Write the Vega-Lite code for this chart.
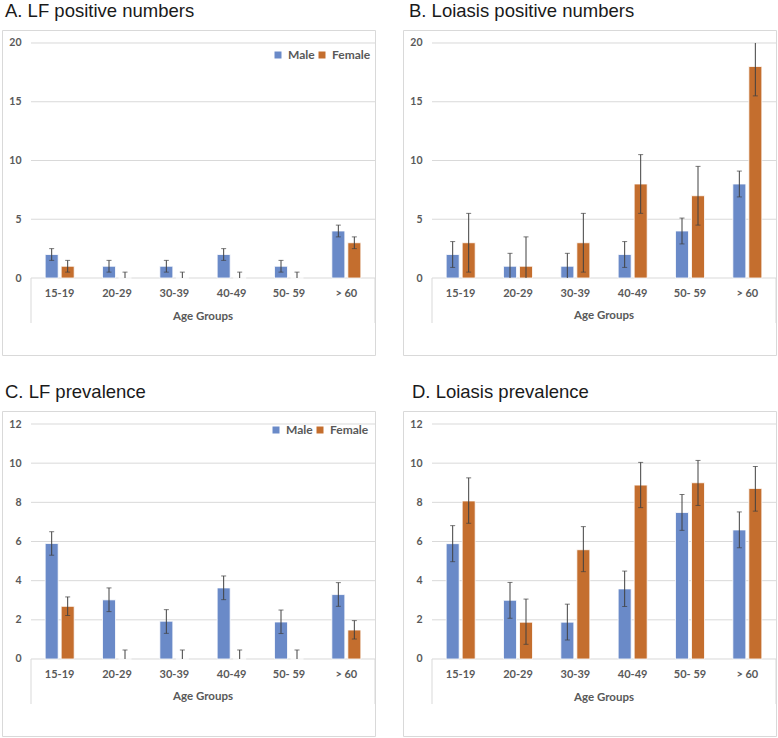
{
  "$schema": "https://vega.github.io/schema/vega-lite/v6.json",
  "background": "white",
  "padding": {"left": 1, "top": 1, "right": 0, "bottom": 0},
  "columns": 2,
  "spacing": {"row": 26, "column": 26},
  "resolve": {"scale": {"color": "independent"}, "legend": {"color": "independent"}},
  "datasets": {
    "A": [
      {"age": "15-19", "sex": "Male", "value": 2, "lo": 1.5, "hi": 2.5},
      {"age": "20-29", "sex": "Male", "value": 1, "lo": 0.5, "hi": 1.5},
      {"age": "30-39", "sex": "Male", "value": 1, "lo": 0.5, "hi": 1.5},
      {"age": "40-49", "sex": "Male", "value": 2, "lo": 1.5, "hi": 2.5},
      {"age": "50- 59", "sex": "Male", "value": 1, "lo": 0.5, "hi": 1.5},
      {"age": "> 60", "sex": "Male", "value": 4, "lo": 3.5, "hi": 4.5},
      {"age": "15-19", "sex": "Female", "value": 1, "lo": 0.5, "hi": 1.5},
      {"age": "20-29", "sex": "Female", "value": 0, "lo": 0, "hi": 0.5},
      {"age": "30-39", "sex": "Female", "value": 0, "lo": 0, "hi": 0.5},
      {"age": "40-49", "sex": "Female", "value": 0, "lo": 0, "hi": 0.5},
      {"age": "50- 59", "sex": "Female", "value": 0, "lo": 0, "hi": 0.5},
      {"age": "> 60", "sex": "Female", "value": 3, "lo": 2.5, "hi": 3.5}
    ],
    "B": [
      {"age": "15-19", "sex": "Male", "value": 2, "lo": 0.9, "hi": 3.1},
      {"age": "20-29", "sex": "Male", "value": 1, "lo": 0, "hi": 2.1},
      {"age": "30-39", "sex": "Male", "value": 1, "lo": 0, "hi": 2.1},
      {"age": "40-49", "sex": "Male", "value": 2, "lo": 0.9, "hi": 3.1},
      {"age": "50- 59", "sex": "Male", "value": 4, "lo": 2.9, "hi": 5.1},
      {"age": "> 60", "sex": "Male", "value": 8, "lo": 6.9, "hi": 9.1},
      {"age": "15-19", "sex": "Female", "value": 3, "lo": 0.5, "hi": 5.5},
      {"age": "20-29", "sex": "Female", "value": 1, "lo": 0, "hi": 3.5},
      {"age": "30-39", "sex": "Female", "value": 3, "lo": 0.5, "hi": 5.5},
      {"age": "40-49", "sex": "Female", "value": 8, "lo": 5.5, "hi": 10.5},
      {"age": "50- 59", "sex": "Female", "value": 7, "lo": 4.5, "hi": 9.5},
      {"age": "> 60", "sex": "Female", "value": 18, "lo": 15.5, "hi": 20}
    ],
    "C": [
      {"age": "15-19", "sex": "Male", "value": 5.9, "lo": 5.3, "hi": 6.5},
      {"age": "20-29", "sex": "Male", "value": 3.02, "lo": 2.42, "hi": 3.63},
      {"age": "30-39", "sex": "Male", "value": 1.93, "lo": 1.31, "hi": 2.52},
      {"age": "40-49", "sex": "Male", "value": 3.63, "lo": 3.03, "hi": 4.24},
      {"age": "50- 59", "sex": "Male", "value": 1.89, "lo": 1.3, "hi": 2.5},
      {"age": "> 60", "sex": "Male", "value": 3.29, "lo": 2.69, "hi": 3.9},
      {"age": "15-19", "sex": "Female", "value": 2.69, "lo": 2.22, "hi": 3.17},
      {"age": "20-29", "sex": "Female", "value": 0, "lo": 0, "hi": 0.46},
      {"age": "30-39", "sex": "Female", "value": 0, "lo": 0, "hi": 0.46},
      {"age": "40-49", "sex": "Female", "value": 0, "lo": 0, "hi": 0.46},
      {"age": "50- 59", "sex": "Female", "value": 0, "lo": 0, "hi": 0.46},
      {"age": "> 60", "sex": "Female", "value": 1.48, "lo": 1.02, "hi": 1.96}
    ],
    "D": [
      {"age": "15-19", "sex": "Male", "value": 5.89, "lo": 4.97, "hi": 6.81},
      {"age": "20-29", "sex": "Male", "value": 3.0, "lo": 2.08, "hi": 3.91},
      {"age": "30-39", "sex": "Male", "value": 1.88, "lo": 0.97, "hi": 2.8},
      {"age": "40-49", "sex": "Male", "value": 3.58, "lo": 2.68, "hi": 4.49},
      {"age": "50- 59", "sex": "Male", "value": 7.48, "lo": 6.57, "hi": 8.4},
      {"age": "> 60", "sex": "Male", "value": 6.59, "lo": 5.68, "hi": 7.51},
      {"age": "15-19", "sex": "Female", "value": 8.07, "lo": 6.93, "hi": 9.25},
      {"age": "20-29", "sex": "Female", "value": 1.88, "lo": 0.75, "hi": 3.06},
      {"age": "30-39", "sex": "Female", "value": 5.58, "lo": 4.46, "hi": 6.76},
      {"age": "40-49", "sex": "Female", "value": 8.88, "lo": 7.73, "hi": 10.04},
      {"age": "50- 59", "sex": "Female", "value": 9.0, "lo": 7.84, "hi": 10.14},
      {"age": "> 60", "sex": "Female", "value": 8.71, "lo": 7.55, "hi": 9.83}
    ],
    "gridAB": [{"v": 0}, {"v": 5}, {"v": 10}, {"v": 15}, {"v": 20}],
    "gridCD": [{"v": 0}, {"v": 2}, {"v": 4}, {"v": 6}, {"v": 8}, {"v": 10}, {"v": 12}],
    "one": [{}]
  },
  "concat": [
    {
      "title": {"text": "A. LF positive numbers", "dx": 3},
      "width": 373, "height": 325,
      "data": {"name": "A"},
      "layer": [
        {"data": {"name": "gridAB"}, "mark": {"type": "rule", "color": "#d9d9d9", "strokeWidth": 1},
         "encoding": {"y": {"field": "v", "type": "quantitative"},
                      "x": {"datum": "15-19", "type": "nominal", "bandPosition": 0},
                      "x2": {"datum": "> 60", "bandPosition": 1}}},
        {"data": {"name": "one"}, "mark": {"type": "rule", "color": "#d9d9d9", "strokeWidth": 1},
         "encoding": {"x": {"datum": "15-19", "type": "nominal", "bandPosition": 0},
                      "y": {"datum": 0, "type": "quantitative"}, "y2": {"datum": -3.83}}},
        {"data": {"name": "one"}, "mark": {"type": "rule", "color": "#d9d9d9", "strokeWidth": 1},
         "encoding": {"x": {"datum": "> 60", "type": "nominal", "bandPosition": 1},
                      "y": {"datum": 0, "type": "quantitative"}, "y2": {"datum": -3.83}}},
        {"mark": {"type": "bar", "stroke": "white", "strokeWidth": 0.8},
         "encoding": {
           "x": {"field": "age", "type": "nominal",
                 "scale": {"domain": ["15-19", "20-29", "30-39", "40-49", "50- 59", "> 60"], "paddingInner": 0, "paddingOuter": 0.253, "align": 1},
                 "axis": {"title": null, "offset": -77, "labelPadding": 15.5, "labelAngle": 0, "bandPosition": 0.5, "labelAlign": "center", "labelFontSize": 11}},
           "xOffset": {"field": "sex", "type": "nominal", "scale": {"domain": ["Male", "Female"], "paddingInner": 0.1875, "paddingOuter": 0.885}},
           "y": {"field": "value", "type": "quantitative",
                 "scale": {"domain": [-6.553, 21.106], "nice": false, "zero": false},
                 "axis": {"title": null, "offset": -29, "labelPadding": 10, "values": [0, 5, 10, 15, 20]}},
           "color": {"field": "sex", "type": "nominal",
                     "scale": {"domain": ["Male", "Female"], "range": ["#6a8ac8", "#c46e2e"]},
                     "legend": {"orient": "none", "legendX": 270, "legendY": 19, "direction": "horizontal", "title": null}}
         }},
        {"mark": {"type": "rule", "color": "#404040", "strokeWidth": 1},
         "encoding": {"x": {"field": "age", "type": "nominal"},
                      "xOffset": {"field": "sex", "type": "nominal"},
                      "y": {"field": "lo", "type": "quantitative"}, "y2": {"field": "hi"}}},
        {"transform": [{"filter": "datum.lo > 0"}], "mark": {"type": "tick", "color": "#404040", "size": 5, "thickness": 1},
         "encoding": {"x": {"field": "age", "type": "nominal"},
                      "xOffset": {"field": "sex", "type": "nominal"},
                      "y": {"field": "lo", "type": "quantitative"}}},
        {"transform": [{"filter": "datum.hi < 20"}], "mark": {"type": "tick", "color": "#404040", "size": 5, "thickness": 1},
         "encoding": {"x": {"field": "age", "type": "nominal"},
                      "xOffset": {"field": "sex", "type": "nominal"},
                      "y": {"field": "hi", "type": "quantitative"}}},
        {"data": {"name": "one"}, "mark": {"type": "text", "text": "Age  Groups", "font": "Lato", "fontWeight": "bold", "fontSize": 11.5, "color": "#595959", "baseline": "middle", "align": "center"},
         "encoding": {"x": {"datum": "40-49", "type": "nominal", "bandPosition": 0},
                      "y": {"datum": -3.3, "type": "quantitative"}}}
      ]
    },
    {
      "title": {"text": "B. Loiasis positive numbers", "dx": 6},
      "width": 373, "height": 325,
      "data": {"name": "B"},
      "layer": [
        {"data": {"name": "gridAB"}, "mark": {"type": "rule", "color": "#d9d9d9", "strokeWidth": 1},
         "encoding": {"y": {"field": "v", "type": "quantitative"},
                      "x": {"datum": "15-19", "type": "nominal", "bandPosition": 0},
                      "x2": {"datum": "> 60", "bandPosition": 1}}},
        {"data": {"name": "one"}, "mark": {"type": "rule", "color": "#d9d9d9", "strokeWidth": 1},
         "encoding": {"x": {"datum": "15-19", "type": "nominal", "bandPosition": 0},
                      "y": {"datum": 0, "type": "quantitative"}, "y2": {"datum": -3.83}}},
        {"data": {"name": "one"}, "mark": {"type": "rule", "color": "#d9d9d9", "strokeWidth": 1},
         "encoding": {"x": {"datum": "> 60", "type": "nominal", "bandPosition": 1},
                      "y": {"datum": 0, "type": "quantitative"}, "y2": {"datum": -3.83}}},
        {"mark": {"type": "bar", "stroke": "white", "strokeWidth": 0.8},
         "encoding": {
           "x": {"field": "age", "type": "nominal",
                 "scale": {"domain": ["15-19", "20-29", "30-39", "40-49", "50- 59", "> 60"], "paddingInner": 0, "paddingOuter": 0.253, "align": 1},
                 "axis": {"title": null, "offset": -77, "labelPadding": 15.5, "labelAngle": 0, "bandPosition": 0.5, "labelAlign": "center", "labelFontSize": 11}},
           "xOffset": {"field": "sex", "type": "nominal", "scale": {"domain": ["Male", "Female"], "paddingInner": 0.1875, "paddingOuter": 0.885}},
           "y": {"field": "value", "type": "quantitative",
                 "scale": {"domain": [-6.553, 21.106], "nice": false, "zero": false},
                 "axis": {"title": null, "offset": -29, "labelPadding": 10, "values": [0, 5, 10, 15, 20]}},
           "color": {"field": "sex", "type": "nominal",
                     "scale": {"domain": ["Male", "Female"], "range": ["#6a8ac8", "#c46e2e"]},
                     "legend": null}
         }},
        {"mark": {"type": "rule", "color": "#404040", "strokeWidth": 1},
         "encoding": {"x": {"field": "age", "type": "nominal"},
                      "xOffset": {"field": "sex", "type": "nominal"},
                      "y": {"field": "lo", "type": "quantitative"}, "y2": {"field": "hi"}}},
        {"transform": [{"filter": "datum.lo > 0"}], "mark": {"type": "tick", "color": "#404040", "size": 5, "thickness": 1},
         "encoding": {"x": {"field": "age", "type": "nominal"},
                      "xOffset": {"field": "sex", "type": "nominal"},
                      "y": {"field": "lo", "type": "quantitative"}}},
        {"transform": [{"filter": "datum.hi < 20"}], "mark": {"type": "tick", "color": "#404040", "size": 5, "thickness": 1},
         "encoding": {"x": {"field": "age", "type": "nominal"},
                      "xOffset": {"field": "sex", "type": "nominal"},
                      "y": {"field": "hi", "type": "quantitative"}}},
        {"data": {"name": "one"}, "mark": {"type": "text", "text": "Age  Groups", "font": "Lato", "fontWeight": "bold", "fontSize": 11.5, "color": "#595959", "baseline": "middle", "align": "center"},
         "encoding": {"x": {"datum": "40-49", "type": "nominal", "bandPosition": 0},
                      "y": {"datum": -3.25, "type": "quantitative"}}}
      ]
    },
    {
      "title": {"text": "C. LF prevalence", "dx": 3},
      "width": 373, "height": 325,
      "data": {"name": "C"},
      "layer": [
        {"data": {"name": "gridCD"}, "mark": {"type": "rule", "color": "#d9d9d9", "strokeWidth": 1},
         "encoding": {"y": {"field": "v", "type": "quantitative"},
                      "x": {"datum": "15-19", "type": "nominal", "bandPosition": 0},
                      "x2": {"datum": "> 60", "bandPosition": 1}}},
        {"data": {"name": "one"}, "mark": {"type": "rule", "color": "#d9d9d9", "strokeWidth": 1},
         "encoding": {"x": {"datum": "15-19", "type": "nominal", "bandPosition": 0},
                      "y": {"datum": 0, "type": "quantitative"}, "y2": {"datum": -2.3}}},
        {"data": {"name": "one"}, "mark": {"type": "rule", "color": "#d9d9d9", "strokeWidth": 1},
         "encoding": {"x": {"datum": "> 60", "type": "nominal", "bandPosition": 1},
                      "y": {"datum": 0, "type": "quantitative"}, "y2": {"datum": -2.3}}},
        {"mark": {"type": "bar", "stroke": "white", "strokeWidth": 0.8},
         "encoding": {
           "x": {"field": "age", "type": "nominal",
                 "scale": {"domain": ["15-19", "20-29", "30-39", "40-49", "50- 59", "> 60"], "paddingInner": 0, "paddingOuter": 0.253, "align": 1},
                 "axis": {"title": null, "offset": -77, "labelPadding": 15.5, "labelAngle": 0, "bandPosition": 0.5, "labelAlign": "center", "labelFontSize": 11}},
           "xOffset": {"field": "sex", "type": "nominal", "scale": {"domain": ["Male", "Female"], "paddingInner": 0.1875, "paddingOuter": 0.885}},
           "y": {"field": "value", "type": "quantitative",
                 "scale": {"domain": [-3.932, 12.664], "nice": false, "zero": false},
                 "axis": {"title": null, "offset": -29, "labelPadding": 10, "values": [0, 2, 4, 6, 8, 10, 12]}},
           "color": {"field": "sex", "type": "nominal",
                     "scale": {"domain": ["Male", "Female"], "range": ["#6a8ac8", "#c46e2e"]},
                     "legend": {"orient": "none", "legendX": 268, "legendY": 13, "direction": "horizontal", "title": null}}
         }},
        {"mark": {"type": "rule", "color": "#404040", "strokeWidth": 1},
         "encoding": {"x": {"field": "age", "type": "nominal"},
                      "xOffset": {"field": "sex", "type": "nominal"},
                      "y": {"field": "lo", "type": "quantitative"}, "y2": {"field": "hi"}}},
        {"transform": [{"filter": "datum.lo > 0"}], "mark": {"type": "tick", "color": "#404040", "size": 5, "thickness": 1},
         "encoding": {"x": {"field": "age", "type": "nominal"},
                      "xOffset": {"field": "sex", "type": "nominal"},
                      "y": {"field": "lo", "type": "quantitative"}}},
        {"transform": [{"filter": "datum.hi < 12"}], "mark": {"type": "tick", "color": "#404040", "size": 5, "thickness": 1},
         "encoding": {"x": {"field": "age", "type": "nominal"},
                      "xOffset": {"field": "sex", "type": "nominal"},
                      "y": {"field": "hi", "type": "quantitative"}}},
        {"data": {"name": "one"}, "mark": {"type": "text", "text": "Age  Groups", "font": "Lato", "fontWeight": "bold", "fontSize": 11.5, "color": "#595959", "baseline": "middle", "align": "center"},
         "encoding": {"x": {"datum": "40-49", "type": "nominal", "bandPosition": 0},
                      "y": {"datum": -1.94, "type": "quantitative"}}}
      ]
    },
    {
      "title": {"text": "D. Loiasis prevalence", "dx": 9},
      "width": 373, "height": 325,
      "data": {"name": "D"},
      "layer": [
        {"data": {"name": "gridCD"}, "mark": {"type": "rule", "color": "#d9d9d9", "strokeWidth": 1},
         "encoding": {"y": {"field": "v", "type": "quantitative"},
                      "x": {"datum": "15-19", "type": "nominal", "bandPosition": 0},
                      "x2": {"datum": "> 60", "bandPosition": 1}}},
        {"data": {"name": "one"}, "mark": {"type": "rule", "color": "#d9d9d9", "strokeWidth": 1},
         "encoding": {"x": {"datum": "15-19", "type": "nominal", "bandPosition": 0},
                      "y": {"datum": 0, "type": "quantitative"}, "y2": {"datum": -2.3}}},
        {"data": {"name": "one"}, "mark": {"type": "rule", "color": "#d9d9d9", "strokeWidth": 1},
         "encoding": {"x": {"datum": "> 60", "type": "nominal", "bandPosition": 1},
                      "y": {"datum": 0, "type": "quantitative"}, "y2": {"datum": -2.3}}},
        {"mark": {"type": "bar", "stroke": "white", "strokeWidth": 0.8},
         "encoding": {
           "x": {"field": "age", "type": "nominal",
                 "scale": {"domain": ["15-19", "20-29", "30-39", "40-49", "50- 59", "> 60"], "paddingInner": 0, "paddingOuter": 0.253, "align": 1},
                 "axis": {"title": null, "offset": -77, "labelPadding": 15.5, "labelAngle": 0, "bandPosition": 0.5, "labelAlign": "center", "labelFontSize": 11}},
           "xOffset": {"field": "sex", "type": "nominal", "scale": {"domain": ["Male", "Female"], "paddingInner": 0.1875, "paddingOuter": 0.885}},
           "y": {"field": "value", "type": "quantitative",
                 "scale": {"domain": [-3.932, 12.664], "nice": false, "zero": false},
                 "axis": {"title": null, "offset": -29, "labelPadding": 10, "values": [0, 2, 4, 6, 8, 10, 12]}},
           "color": {"field": "sex", "type": "nominal",
                     "scale": {"domain": ["Male", "Female"], "range": ["#6a8ac8", "#c46e2e"]},
                     "legend": null}
         }},
        {"mark": {"type": "rule", "color": "#404040", "strokeWidth": 1},
         "encoding": {"x": {"field": "age", "type": "nominal"},
                      "xOffset": {"field": "sex", "type": "nominal"},
                      "y": {"field": "lo", "type": "quantitative"}, "y2": {"field": "hi"}}},
        {"transform": [{"filter": "datum.lo > 0"}], "mark": {"type": "tick", "color": "#404040", "size": 5, "thickness": 1},
         "encoding": {"x": {"field": "age", "type": "nominal"},
                      "xOffset": {"field": "sex", "type": "nominal"},
                      "y": {"field": "lo", "type": "quantitative"}}},
        {"transform": [{"filter": "datum.hi < 12"}], "mark": {"type": "tick", "color": "#404040", "size": 5, "thickness": 1},
         "encoding": {"x": {"field": "age", "type": "nominal"},
                      "xOffset": {"field": "sex", "type": "nominal"},
                      "y": {"field": "hi", "type": "quantitative"}}},
        {"data": {"name": "one"}, "mark": {"type": "text", "text": "Age  Groups", "font": "Lato", "fontWeight": "bold", "fontSize": 11.5, "color": "#595959", "baseline": "middle", "align": "center"},
         "encoding": {"x": {"datum": "40-49", "type": "nominal", "bandPosition": 0},
                      "y": {"datum": -2.0, "type": "quantitative"}}}
      ]
    }
  ],
  "config": {
    "view": {"stroke": "#d9d9d9", "strokeWidth": 1},
    "axis": {"labelFont": "Lato", "labelFontWeight": "bold", "labelFontSize": 10.5, "labelColor": "#595959",
             "domain": false, "ticks": false, "grid": false},
    "title": {"font": "Liberation Sans", "fontSize": 18.5, "fontWeight": "normal", "anchor": "start", "color": "#1a1a1a", "offset": 10},
    "legend": {"labelFont": "Lato", "labelFontWeight": "bold", "labelFontSize": 12, "labelColor": "#595959",
               "symbolType": "square", "symbolSize": 49, "symbolStrokeWidth": 0, "padding": 0,
               "labelOffset": 4, "columnPadding": 1}
  }
}
